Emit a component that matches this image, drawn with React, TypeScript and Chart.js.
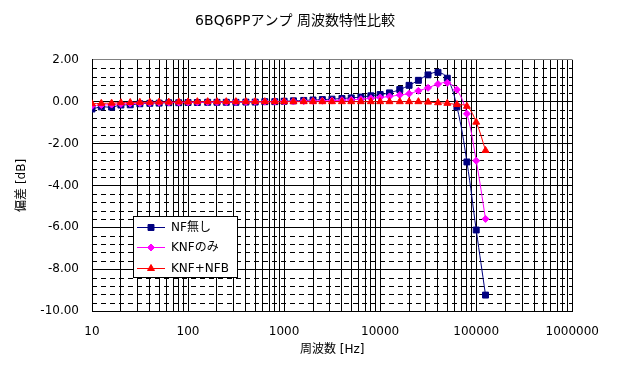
import React, { useEffect, useRef } from 'react';
import { Chart, registerables } from 'chart.js';

Chart.register(...registerables);

const TITLE = '6BQ6PPアンプ 周波数特性比較';
const X_TITLE = '周波数 [Hz]';
const Y_TITLE = '偏差 [dB]';

const frequencies = [
  10, 12.5, 16, 20, 25, 31.5, 40, 50, 63, 80,
  100, 125, 160, 200, 250, 315, 400, 500, 630, 800,
  1000, 1250, 1600, 2000, 2500, 3150, 4000, 5000, 6300, 8000,
  10000, 12500, 16000, 20000, 25000, 31500, 40000, 50000, 63000, 80000,
  100000, 125000,
];

const nfNone = [
  -0.35, -0.25, -0.26, -0.16, -0.15, -0.10, -0.08, -0.07, -0.05, -0.05,
  -0.04, -0.04, -0.03, -0.03, -0.03, -0.03, -0.02, -0.02, 0.00, 0.00,
  0.02, 0.04, 0.06, 0.08, 0.10, 0.12, 0.15, 0.18, 0.22, 0.28,
  0.34, 0.42, 0.58, 0.78, 1.02, 1.28, 1.40, 1.12, -0.25, -2.88,
  -6.13, -9.24,
];

const knfOnly = [
  -0.20, -0.16, -0.14, -0.11, -0.09, -0.07, -0.06, -0.05, -0.04, -0.04,
  -0.03, -0.03, -0.02, -0.02, -0.02, -0.01, -0.01, 0.00, 0.00, 0.00,
  0.01, 0.01, 0.02, 0.03, 0.04, 0.05, 0.07, 0.09, 0.12, 0.16,
  0.20, 0.25, 0.32, 0.38, 0.52, 0.66, 0.84, 0.90, 0.57, -0.58,
  -2.82, -5.60,
];

const knfNfb = [
  -0.10, -0.08, -0.07, -0.05, -0.04, -0.03, -0.03, -0.02, -0.02, -0.01,
  -0.01, 0.00, 0.00, 0.00, 0.00, 0.00, 0.00, 0.00, 0.00, 0.00,
  0.00, 0.00, 0.00, 0.00, 0.00, 0.00, 0.00, 0.00, 0.00, 0.00,
  0.00, 0.00, 0.00, 0.00, 0.00, -0.02, -0.05, -0.08, -0.14, -0.22,
  -0.98, -2.33,
];

const xTickLabels = ['10', '100', '1000', '10000', '100000', '1000000'];
const yMin = -10;
const yMax = 2;
const yMajorStep = 2;
const yMinorStep = 0.4;

const FONT_FAMILY = '"DejaVu Sans", "Noto Sans CJK JP", sans-serif';

// log grid values: 1..9 x 10^n, plus last decade
const xGridValues: number[] = [];
for (let e = 1; e <= 5; e++) {
  for (let m = 1; m <= 9; m++) xGridValues.push(m * Math.pow(10, e));
}
xGridValues.push(1000000);

const yMinorValues: number[] = [];
for (let k = 0; k <= Math.round((yMax - yMin) / yMinorStep); k++) {
  const v = Math.round((yMin + k * yMinorStep) * 100) / 100;
  if (Math.abs(v / yMajorStep - Math.round(v / yMajorStep)) > 1e-6) yMinorValues.push(v);
}

const minorGridPlugin = {
  id: 'minorGrid',
  beforeDatasetsDraw(chart: any) {
    const { ctx, chartArea, scales } = chart;
    const y = scales.y;
    ctx.save();
    ctx.strokeStyle = '#000';
    ctx.lineWidth = 1;
    ctx.setLineDash([5, 4]);
    for (const v of yMinorValues) {
      const py = Math.round(y.getPixelForValue(v)) + 0.5;
      ctx.beginPath();
      ctx.moveTo(chartArea.left, py);
      ctx.lineTo(chartArea.right, py);
      ctx.stroke();
    }
    ctx.restore();
  },
};

function drawMarker(ctx: CanvasRenderingContext2D, style: string, x: number, y: number, r: number, color: string) {
  ctx.beginPath();
  if (style === 'rect') {
    const s = r * Math.SQRT1_2;
    ctx.rect(x - s, y - s, 2 * s, 2 * s);
  } else if (style === 'rectRot') {
    ctx.moveTo(x, y - r);
    ctx.lineTo(x + r, y);
    ctx.lineTo(x, y + r);
    ctx.lineTo(x - r, y);
    ctx.closePath();
  } else {
    const a = (2 * Math.PI) / 3;
    ctx.moveTo(x, y - r);
    ctx.lineTo(x + Math.sin(a) * r, y - Math.cos(a) * r);
    ctx.lineTo(x + Math.sin(2 * a) * r, y - Math.cos(2 * a) * r);
    ctx.closePath();
  }
  ctx.fillStyle = color;
  ctx.strokeStyle = color;
  ctx.lineWidth = 1;
  ctx.fill();
  ctx.stroke();
}

const boxLegendPlugin = {
  id: 'boxLegend',
  afterDatasetsDraw(chart: any) {
    const { ctx, chartArea } = chart;
    const x0 = Math.round(chartArea.left + 41);
    const y0 = Math.round(chartArea.top + 156);
    const w = 104;
    const h = 61;
    ctx.save();
    ctx.fillStyle = '#fff';
    ctx.fillRect(x0, y0, w, h);
    ctx.strokeStyle = '#000';
    ctx.lineWidth = 1;
    ctx.setLineDash([]);
    ctx.strokeRect(x0 + 0.5, y0 + 0.5, w, h);
    ctx.font = '12px ' + FONT_FAMILY;
    ctx.textBaseline = 'middle';
    ctx.textAlign = 'left';
    chart.data.datasets.forEach((ds: any, i: number) => {
      const cy = Math.round(y0 + 10.5 + i * 20.7) + 0.5;
      ctx.strokeStyle = ds.borderColor;
      ctx.lineWidth = 1;
      ctx.beginPath();
      ctx.moveTo(x0 + 4, cy);
      ctx.lineTo(x0 + 32, cy);
      ctx.stroke();
      drawMarker(ctx, ds.pointStyle, x0 + 18, cy, ds.pointRadius, ds.borderColor);
      ctx.fillStyle = '#000';
      ctx.fillText(ds.label, x0 + 38, cy + 0.5);
    });
    ctx.restore();
  },
};

export default function App() {
  const canvasRef = useRef<HTMLCanvasElement | null>(null);

  useEffect(() => {
    if (!canvasRef.current) return;
    const toPoints = (vals: number[]) => frequencies.map((f, i) => ({ x: f, y: vals[i] }));
    const tickFont = { family: FONT_FAMILY, size: 12 };

    const chart = new Chart(canvasRef.current, {
      type: 'line',
      data: {
        datasets: [
          {
            label: 'NF無し',
            data: toPoints(nfNone),
            borderColor: '#000080',
            backgroundColor: '#000080',
            pointBackgroundColor: '#000080',
            pointBorderColor: '#000080',
            pointStyle: 'rect',
            pointRadius: 4.2,
            pointBorderWidth: 1,
            borderWidth: 1,
            tension: 0.4,
            order: 3,
          },
          {
            label: 'KNFのみ',
            data: toPoints(knfOnly),
            borderColor: '#FF00FF',
            backgroundColor: '#FF00FF',
            pointBackgroundColor: '#FF00FF',
            pointBorderColor: '#FF00FF',
            pointStyle: 'rectRot',
            pointRadius: 3.5,
            pointBorderWidth: 1,
            borderWidth: 1,
            tension: 0.4,
            order: 2,
          },
          {
            label: 'KNF+NFB',
            data: toPoints(knfNfb),
            borderColor: '#FF0000',
            backgroundColor: '#FF0000',
            pointBackgroundColor: '#FF0000',
            pointBorderColor: '#FF0000',
            pointStyle: 'triangle',
            pointRadius: 4,
            pointBorderWidth: 1,
            borderWidth: 1,
            tension: 0.4,
            order: 1,
          },
        ],
      } as any,
      options: {
        animation: false,
        responsive: false,
        events: [],
        layout: { padding: { left: 0, right: 31, top: 0, bottom: 0 } },
        plugins: {
          legend: { display: false },
          tooltip: { enabled: false },
          title: {
            display: true,
            text: TITLE,
            color: '#000',
            font: { family: FONT_FAMILY, size: 14, weight: 'normal' },
            padding: { top: 5, bottom: 30 },
          },
        },
        scales: {
          x: {
            type: 'logarithmic',
            min: 10,
            max: 1000000,
            afterBuildTicks: (scale: any) => {
              scale.ticks = xGridValues.map((v) => ({ value: v }));
            },
            afterFit: (scale: any) => {
              scale.height = 57;
            },
            ticks: {
              autoSkip: false,
              maxRotation: 0,
              minRotation: 0,
              padding: 14,
              color: '#000',
              font: tickFont,
              callback: (value: any) => {
                const s = String(Math.round(Number(value)));
                return xTickLabels.includes(s) ? s : '';
              },
            },
            grid: { color: '#000', lineWidth: 1, drawTicks: false, tickLength: 0 },
            border: { color: '#000', width: 1 },
            title: {
              display: true,
              text: X_TITLE,
              color: '#000',
              font: tickFont,
              padding: { top: 0, bottom: 11 },
            },
          },
          y: {
            type: 'linear',
            min: yMin,
            max: yMax,
            afterFit: (scale: any) => {
              scale.width = 84;
            },
            ticks: {
              stepSize: yMajorStep,
              padding: 13,
              color: '#000',
              font: tickFont,
              callback: (value: any) => Number(value).toFixed(2),
            },
            grid: {
              color: (ctx: any) => (ctx.tick && Math.abs(ctx.tick.value - yMax) < 1e-9 ? '#808080' : '#000'),
              lineWidth: 1,
              drawTicks: false,
              tickLength: 0,
            },
            border: { color: '#000', width: 1 },
            title: {
              display: true,
              text: Y_TITLE,
              color: '#000',
              font: tickFont,
              padding: { top: 7, bottom: 0 },
            },
          },
        },
      } as any,
      plugins: [minorGridPlugin, boxLegendPlugin],
    });

    return () => chart.destroy();
  }, []);

  return <canvas ref={canvasRef} width={605} height={360} />;
}
